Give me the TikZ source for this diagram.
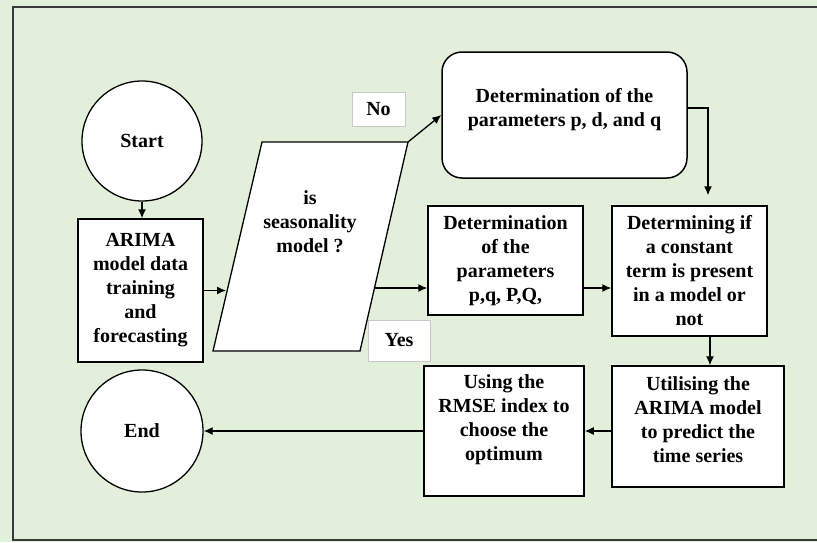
\documentclass[tikz,border=0pt]{standalone}
\usepackage{fontspec}
\setmainfont{Liberation Serif}
\usetikzlibrary{arrows.meta,calc}
\definecolor{bggreen}{HTML}{E2EFDA}
\definecolor{framegray}{HTML}{3A3A3A}
\definecolor{tagedge}{HTML}{C8C8C8}
\begin{document}
\begin{tikzpicture}[x=1pt,y=-1pt,
  font=\fontsize{20}{24}\selectfont\bfseries,
  box/.style={draw=black,line width=1.5pt,fill=white,rectangle,inner sep=0pt,align=center},
  term/.style={draw=black,line width=1.3pt,fill=white,circle,inner sep=0pt,minimum size=#1},
  tag/.style={draw=tagedge,line width=1pt,fill=white,inner sep=0pt,align=center},
  txt/.style={inner sep=0pt,align=center},
  arr/.style={line width=1.3pt,-{Latex[length=9pt,width=8pt]}}]
\useasboundingbox (0,0) rectangle (817,542);
\fill[bggreen] (0,0) rectangle (817,542);
\draw[framegray,line width=1.8pt] (817,7) -- (13,7) -- (13,540) -- (817,540);
% nodes
\node[term=120pt] (start) at (142,141) {Start};
\node[box,minimum width=125pt,minimum height=143pt] (arima) at (140.5,290.5)
  {ARIMA\\model data\\training\\and\\forecasting};
\draw[line width=1.3pt,fill=white] (262,142) coordinate (decTL) -- (408,142) coordinate (decTR)
  -- (360,351) -- (213,351) -- cycle;
\node[txt] (dectext) at (310,222) {is\\seasonality\\model ?};
\coordinate (decL) at (226,290.5);
\coordinate (decR) at (374,288);
\node[tag,minimum width=53pt,minimum height=34pt] (no) at (378.5,109) {No};
\node[tag,minimum width=62pt,minimum height=41pt] (yes) at (399,340.5) {Yes};
\node[box,rounded corners=20pt,minimum width=245pt,minimum height=126pt] (pdq) at (564.5,115) {};
\node[txt] (pdqtext) at (564.5,110) {Determination of the\\parameters p, d, and q};
\node[box,minimum width=155pt,minimum height=109pt] (pq) at (505.5,260.5)
  {Determination\\of the\\parameters\\p,q, P,Q,};
\node[box,minimum width=155pt,minimum height=130pt] (const) at (689.5,271)
  {Determining if\\a constant\\term is present\\in a model or\\not};
\node[box,minimum width=172pt,minimum height=121pt] (util) at (698,426.5) {};
\node[txt] (utiltext) at (698,420) {Utilising the\\ARIMA model\\to predict the\\time series};
\node[box,minimum width=160pt,minimum height=130pt] (rmse) at (504,431) {};
\node[txt] (rmsetext) at (504,420) {Using the\\RMSE index to\\choose the\\optimum};
\node[term=122pt] (end) at (142,431) {End};
% connectors
\draw[arr] (start.south) -- (start.south |- arima.north);
\draw[arr] (arima.east) -- (decL);
\draw[arr] (decTR) -- (pdq.west);
\draw[arr] (decR) -- (decR -| pq.west);
\draw[arr] (pq.east |- decR) -- (const.west |- decR);
\draw[arr,shorten >=10pt] ([yshift=7pt]pdq.east) -| ([xshift=18.5pt]const.north);
\draw[arr] ([xshift=20.5pt]const.south) -- ([xshift=20.5pt]const.south |- util.north);
\draw[arr] (util.west |- rmse.west) -- (rmse.east);
\draw[arr] (rmse.west) -- (end.east);
\end{tikzpicture}
\end{document}
